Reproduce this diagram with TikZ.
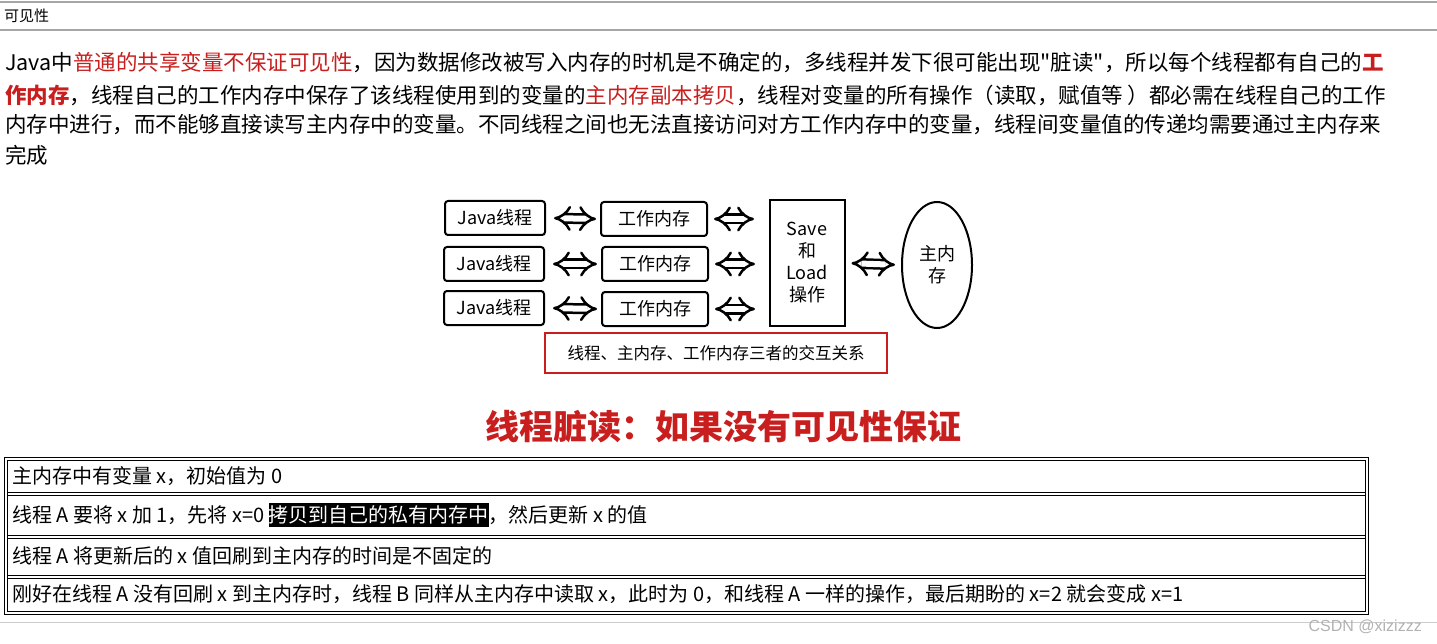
\documentclass[tikz,border=0pt]{standalone}
\usepackage{fontspec}
\setmainfont{Liberation Sans}
\newfontfamily\cjk{Noto Sans CJK SC}
\usetikzlibrary{arrows.meta,shapes.geometric}
\definecolor{dred}{RGB}{200,30,30}
\begin{document}
\begin{tikzpicture}[x=1pt,y=-1pt,
  every node/.style={inner sep=0pt,font=\cjk},
  para/.style={anchor=west,font=\cjk\fontsize{21.5}{24}\selectfont},
  rbox/.style={draw,line width=2pt,rounded corners=3pt,minimum width=100pt,minimum height=34pt,font=\cjk\fontsize{18}{20}\selectfont},
  dar/.style={double,double distance=6pt,line width=2.5pt,{Implies[length=8pt,width=18pt]}-{Implies[length=8pt,width=18pt]}},
  row/.style={anchor=west,font=\cjk\fontsize{20}{24}\selectfont}]
\useasboundingbox (0,0) rectangle (1437,644);
\draw[gray!70,line width=2pt] (0,2) -- (1437,2);
\draw[gray!70,line width=2pt] (0,30) -- (1437,30);
\node[anchor=west,font=\cjk\fontsize{15}{18}\selectfont] (h) at (4,16) {可见性};
\node[para] (p1) at (5,63) {Java中\textcolor{dred}{普通的共享变量不保证可见性}，因为数据修改被写入内存的时机是不确定的，多线程并发下很可能出现"脏读"，所以每个线程都有自己的\textcolor{dred}{\textbf{\textit{工}}}};
\node[para] (p2) at (5,95) {\textcolor{dred}{\textbf{\textit{作内存}}}，线程自己的工作内存中保存了该线程使用到的变量的\textcolor{dred}{主内存副本拷贝}，线程对变量的所有操作（读取，赋值等 ）都必需在线程自己的工作};
\node[para] (p3) at (5,125) {内存中进行，而不能够直接读写主内存中的变量。不同线程之间也无法直接访问对方工作内存中的变量，线程间变量值的传递均需要通过主内存来};
\node[para] (p4) at (5,155) {完成};
% diagram
\node[rbox] (j1) at (495,218) {Java线程};
\node[rbox] (j2) at (494,264) {Java线程};
\node[rbox] (j3) at (494,308) {Java线程};
\node[rbox,minimum width=106pt] (w1) at (654,219) {工作内存};
\node[rbox,minimum width=106pt] (w2) at (655,264) {工作内存};
\node[rbox,minimum width=106pt] (w3) at (655,309) {工作内存};
\node[draw,line width=2pt,minimum width=75pt,minimum height=126pt,align=center,font=\cjk\fontsize{18}{22}\selectfont] (s) at (807,263) {Save\\和\\Load\\操作};
\node[draw,line width=2pt,ellipse,minimum width=70pt,minimum height=126pt,align=center,font=\cjk\fontsize{18}{22}\selectfont] (m) at (937,265) {主内\\存};
\foreach \i in {1,2,3}{
  \draw[dar,shorten <=8pt,shorten >=4pt] (j\i.east) -- (w\i.west);
}
\draw[dar,shorten <=6pt,shorten >=1pt] (w1.east) -- ++(47,0) coordinate (e1);
\draw[dar,shorten <=6pt,shorten >=1pt] (w2.east) -- ++(47,0) coordinate (e2);
\draw[dar,shorten <=6pt,shorten >=1pt] (w3.east) -- ++(47,0) coordinate (e3);
\draw[dar,shorten <=6pt,shorten >=6pt] (s.east) -- (m.west);
\node[draw=dred,line width=2pt,minimum width=342pt,minimum height=40pt,font=\cjk\fontsize{16.5}{20}\selectfont] (cap) at (716,353) {线程、主内存、工作内存三者的交互关系};
\node[text=dred,font=\cjk\bfseries\fontsize{34}{36}\selectfont] (t) at (723,427) {线程脏读：如果没有可见性保证};
% table
\draw[line width=1pt] (4,457) rectangle (1368,614);
\draw[line width=1pt] (7,460) rectangle (1365,611);
\foreach \y in {494,537,577}{\draw[line width=1pt] (7,\y-1.5) -- (1365,\y-1.5); \draw[line width=1pt] (7,\y+1.5) -- (1365,\y+1.5);}
\node[row] (r1) at (12,476) {主内存中有变量 x，初始值为 0};
\node[row] (r2) at (12,515) {线程 A 要将 x 加 1，先将 x=0 \colorbox{black}{\hspace{-3pt}\textcolor{white}{拷贝到自己的私有内存中}\hspace{-3pt}}，然后更新 x 的值};
\node[row] (r3) at (12,556) {线程 A 将更新后的 x 值回刷到主内存的时间是不固定的};
\node[row] (r4) at (12,594) {刚好在线程 A 没有回刷 x 到主内存时，线程 B 同样从主内存中读取 x，此时为 0，和线程 A 一样的操作，最后期盼的 x=2 就会变成 x=1};
\draw[gray!40,line width=1pt] (0,622) -- (1437,622);
\node[anchor=east,text=gray!60,font=\fontsize{16}{18}\selectfont] (wm) at (1422,627) {CSDN @xizizzz};
\end{tikzpicture}
\end{document}
